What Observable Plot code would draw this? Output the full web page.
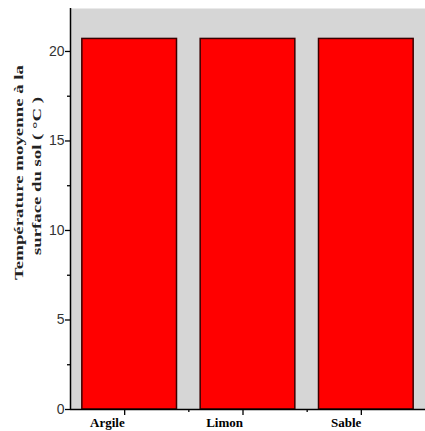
<!DOCTYPE html>
<html><head><meta charset="utf-8">
<script src="https://cdn.jsdelivr.net/npm/d3@7"></script>
<script src="https://cdn.jsdelivr.net/npm/@observablehq/plot@0.6"></script>
<style>
body{margin:0;background:#fff}
#chart svg g[aria-label="y-axis tick label"] text{fill:#333}
</style>
</head><body><div id="chart"></div>
<script>
const categories = ["Argile", "Limon", "Sable"];
const values = [20.7, 20.7, 20.7];
const yMajorTicks = [0, 5, 10, 15, 20];
const yMinorTicks = [2.5, 7.5, 12.5, 17.5];
const yLabelLines = ["Température moyenne à la", "surface du sol ( °C )"];

const data = categories.map((c, i) => ({i, cat: c, value: values[i]}));
const xMajor = categories.map((_, i) => i);
const xMinor = categories.slice(1).map((_, k) => k + 0.5);

const chart = Plot.plot({
  width: 425, height: 431,
  marginLeft: 70, marginRight: 0, marginTop: 8, marginBottom: 22,
  style: {background: "white", overflow: "visible"},
  x: {type: "linear", domain: [-0.5, categories.length - 0.5], axis: null},
  y: {domain: [0, 22.4], axis: null},
  marks: [
    Plot.frame({fill: "#d6d6d6", stroke: null}),
    Plot.rectY(data, {x1: d => d.i - 0.4, x2: d => d.i + 0.4, y1: 0, y2: "value",
      fill: "#ff0000", stroke: "#3a0000", strokeWidth: 1.5}),
    Plot.ruleX([-0.5], {stroke: "black", strokeWidth: 1.5}),
    Plot.ruleY([0], {stroke: "black", strokeWidth: 1.5}),
    Plot.axisY({ticks: yMajorTicks, tickSize: 5, tickPadding: 1, fontSize: 14,
      fontFamily: "Liberation Sans, Arial, sans-serif", color: "black", strokeWidth: 1.3, label: null}),
    Plot.axisY({ticks: yMinorTicks, tickSize: 3, tickFormat: () => "", color: "black", strokeWidth: 1.3, label: null}),
    Plot.axisX({ticks: xMajor, tickSize: 6, tickPadding: 2, tickFormat: i => categories[i],
      textAnchor: "end", dx: -5, fontSize: 13, fontWeight: "bold",
      fontFamily: "Liberation Serif, Times New Roman, serif", color: "black", strokeWidth: 1.3, label: null}),
    Plot.axisX({ticks: xMinor, tickSize: 3, tickFormat: () => "", color: "black", strokeWidth: 1.3, label: null})
  ]
});
document.getElementById("chart").appendChild(chart);

const svg = d3.select(chart);
const labelSpecs = [
  {text: yLabelLines[0], x: 23, y: 172.5, len: 215},
  {text: yLabelLines[1], x: 41, y: 176, len: 158}
];
labelSpecs.forEach(s => {
  svg.append("text")
    .attr("transform", `translate(${s.x},${s.y}) rotate(-90)`)
    .attr("text-anchor", "middle")
    .attr("font-family", "Liberation Serif, Times New Roman, serif")
    .attr("font-weight", "bold")
    .attr("font-size", 13)
    .attr("fill", "#222")
    .attr("textLength", s.len)
    .attr("lengthAdjust", "spacingAndGlyphs")
    .text(s.text);
});
</script>
</body></html>
